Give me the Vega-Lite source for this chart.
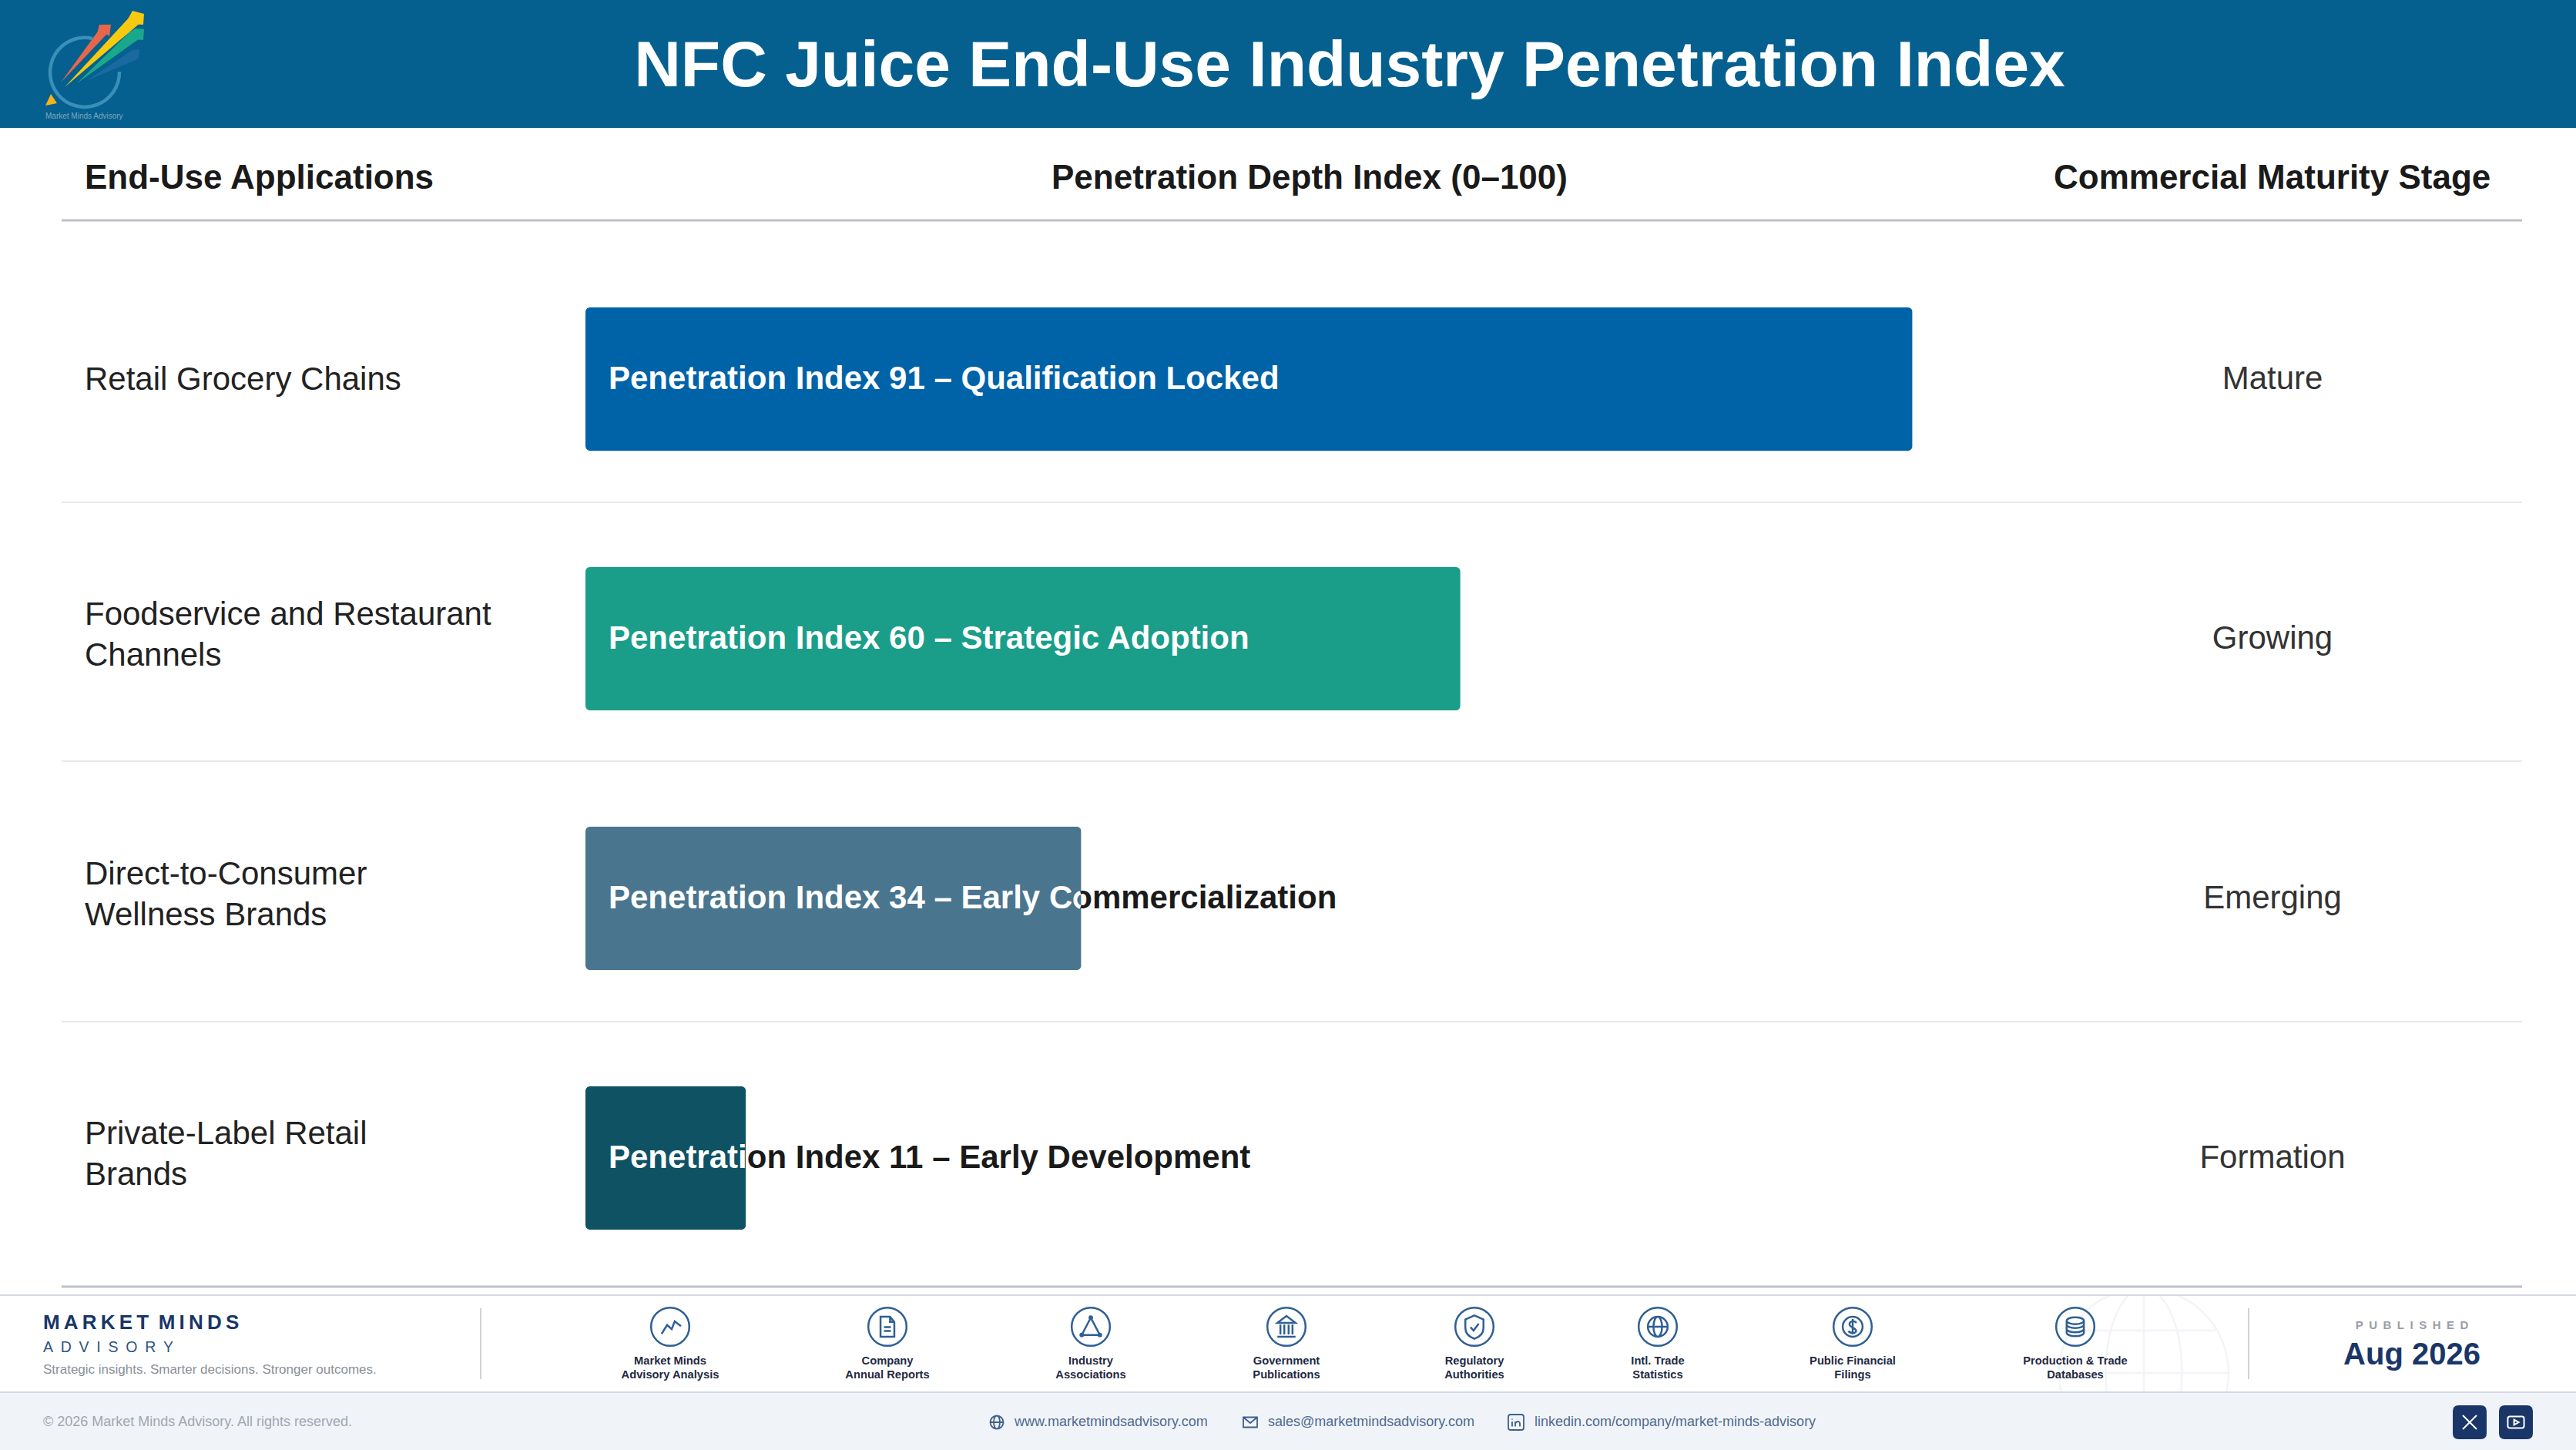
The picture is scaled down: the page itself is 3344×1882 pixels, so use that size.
{
  "$schema": "https://vega.github.io/schema/vega-lite/v6.json",
  "width": 3344,
  "height": 1882,
  "autosize": "none",
  "padding": 0,
  "background": "#ffffff",
  "config": {
    "font": "Liberation Sans",
    "view": {"stroke": null}
  },
  "datasets": {
    "rows": [
      {"application": "Retail Grocery Chains", "index": 91, "label": "Penetration Index 91 – Qualification Locked", "inBar": "Penetration Index 91 – Qualification Locked", "stage": "Mature"},
      {"application": "Foodservice and Restaurant\nChannels", "index": 60, "label": "Penetration Index 60 – Strategic Adoption", "inBar": "Penetration Index 60 – Strategic Adoption", "stage": "Growing"},
      {"application": "Direct-to-Consumer\nWellness Brands", "index": 34, "label": "Penetration Index 34 – Early Commercialization", "inBar": "Penetration Index 34 – Early C", "stage": "Emerging"},
      {"application": "Private-Label Retail\nBrands", "index": 11, "label": "Penetration Index 11 – Early Development", "inBar": "Penetrati", "stage": "Formation"}
    ],
    "sources": [
      {"n": 1, "source": "Market Minds\nAdvisory Analysis"},
      {"n": 2, "source": "Company\nAnnual Reports"},
      {"n": 3, "source": "Industry\nAssociations"},
      {"n": 4, "source": "Government\nPublications"},
      {"n": 5, "source": "Regulatory\nAuthorities"},
      {"n": 6, "source": "Intl. Trade\nStatistics"},
      {"n": 7, "source": "Public Financial\nFilings"},
      {"n": 8, "source": "Production & Trade\nDatabases"}
    ]
  },
  "resolve": {
    "scale": {"x": "independent", "y": "independent", "color": "independent", "size": "independent", "shape": "independent"}
  },
  "layer": [
    {
      "data": {"values": [{"n": 1}]},
      "mark": {"type": "point", "filled": false, "opacity": 1, "size": 48400, "color": "#f2f4f7", "strokeWidth": 2.5, "shape": "M-1 0A1 1 0 1 1 1 0A1 1 0 1 1 -1 0ZM0 -1A0.45 1 0 0 1 0 1A0.45 1 0 0 1 0 -1ZM0 -1L0 1M-1 0L1 0M-0.85 -0.5L0.85 -0.5M-0.85 0.5L0.85 0.5"},
      "encoding": {
        "x": {"datum": 0, "axis": null, "scale": {"domain": [0, 1], "range": [2783, 2783]}},
        "y": {"datum": 0, "axis": null, "scale": {"domain": [0, 1], "range": [1782, 1782]}}
      }
    },
    {
      "data": {"values": [{"n": 1}]},
      "mark": {"type": "rule", "color": "#ffffff", "strokeWidth": 12},
      "encoding": {"y": {"datum": 0, "axis": null, "scale": {"domain": [0, 1], "range": [1675, 1675]}}}
    },
    {
      "data": {"values": [{"n": 1}]},
      "mark": {"type": "rule", "color": "#05608f", "strokeWidth": 166},
      "encoding": {"y": {"datum": 0, "axis": null, "scale": {"domain": [0, 1], "range": [83, 83]}}}
    },
    {
      "data": {"values": [{"t": "NFC Juice End-Use Industry Penetration Index"}]},
      "mark": {"type": "text", "align": "center", "baseline": "middle", "fontSize": 84, "fontWeight": "bold", "color": "#ffffff"},
      "encoding": {
        "x": {"datum": 0, "axis": null, "scale": {"domain": [0, 1], "range": [1752, 1752]}},
        "y": {"datum": 0, "axis": null, "scale": {"domain": [0, 1], "range": [87, 87]}},
        "text": {"field": "t"}
      }
    },
    {
      "data": {"values": [{"n": 1}]},
      "mark": {"type": "rule", "color": "#f0f4f9", "strokeWidth": 75},
      "encoding": {"y": {"datum": 0, "axis": null, "scale": {"domain": [0, 1], "range": [1844.5, 1844.5]}}}
    },
    {
      "data": {"values": [{"n": 1}, {"n": 2}]},
      "mark": {"type": "rule", "color": "#d5d8e6", "strokeWidth": 2},
      "encoding": {"y": {"field": "n", "type": "quantitative", "axis": null, "scale": {"domain": [1, 2], "range": [1681, 1807]}}}
    },
    {
      "data": {"values": [{"n": 1}, {"n": 2}]},
      "mark": {"type": "rule", "color": "#c0c0c8", "strokeWidth": 3},
      "encoding": {
        "x": {"datum": 0, "axis": null, "scale": {"domain": [0, 1], "range": [80, 3274]}},
        "x2": {"datum": 1},
        "y": {"field": "n", "type": "quantitative", "axis": null, "scale": {"domain": [1, 2], "range": [286, 1670]}}
      }
    },
    {
      "data": {"values": [{"n": 1}, {"n": 2}, {"n": 3}]},
      "mark": {"type": "rule", "color": "#e8e8e8", "strokeWidth": 2},
      "encoding": {
        "x": {"datum": 0, "axis": null, "scale": {"domain": [0, 1], "range": [80, 3274]}},
        "x2": {"datum": 1},
        "y": {"field": "n", "type": "quantitative", "axis": null, "scale": {"domain": [1, 2, 3], "range": [652, 988, 1326]}}
      }
    },
    {
      "data": {"values": [{"n": 1}, {"n": 2}]},
      "mark": {"type": "rule", "color": "#cfd2da", "strokeWidth": 2},
      "encoding": {
        "x": {"field": "n", "type": "quantitative", "axis": null, "scale": {"domain": [1, 2], "range": [624, 2919]}},
        "y": {"datum": 0, "axis": null, "scale": {"domain": [0, 1], "range": [1698, 1790]}},
        "y2": {"datum": 1}
      }
    },
    {
      "data": {"name": "rows"},
      "mark": {"type": "text", "align": "left", "baseline": "middle", "dx": 30, "fontSize": 42, "fontWeight": "bold", "color": "#1a1a1a"},
      "encoding": {
        "x": {"datum": 0, "axis": null, "scale": {"domain": [0, 100], "range": [760, 2653]}},
        "y": {"field": "application", "type": "nominal", "axis": null, "sort": null, "scale": {"type": "band", "range": [323.5, 1671.5], "paddingInner": 0.448, "paddingOuter": 0.224}},
        "text": {"field": "label"}
      }
    },
    {
      "data": {"name": "rows"},
      "mark": {"type": "bar", "cornerRadius": 6},
      "encoding": {
        "x": {"field": "index", "type": "quantitative", "axis": null, "scale": {"domain": [0, 100], "range": [760, 2653]}},
        "y": {"field": "application", "type": "nominal", "axis": null, "sort": null, "scale": {"type": "band", "range": [323.5, 1671.5], "paddingInner": 0.448, "paddingOuter": 0.224}},
        "color": {"field": "stage", "type": "nominal", "legend": null, "scale": {"domain": ["Mature", "Growing", "Emerging", "Formation"], "range": ["#0063a8", "#1a9e8a", "#4a758f", "#0e5264"]}}
      }
    },
    {
      "data": {"name": "rows"},
      "mark": {"type": "text", "align": "left", "baseline": "middle", "dx": 30, "fontSize": 42, "fontWeight": "bold", "color": "#ffffff"},
      "encoding": {
        "x": {"datum": 0, "axis": null, "scale": {"domain": [0, 100], "range": [760, 2653]}},
        "y": {"field": "application", "type": "nominal", "axis": null, "sort": null, "scale": {"type": "band", "range": [323.5, 1671.5], "paddingInner": 0.448, "paddingOuter": 0.224}},
        "text": {"field": "inBar"}
      }
    },
    {
      "data": {"name": "rows"},
      "transform": [{"filter": "datum.stage === 'Emerging'"}],
      "mark": {"type": "point", "filled": false, "opacity": 1, "size": 576, "color": "#ffffff", "strokeWidth": 5, "shape": "M-0.1 -0.78A0.83 0.83 0 0 0 -0.1 0.78"},
      "encoding": {
        "x": {"field": "index", "type": "quantitative", "axis": null, "scale": {"domain": [0, 100], "range": [760, 2653]}},
        "y": {"field": "application", "type": "nominal", "axis": null, "scale": {"type": "band", "domain": ["Retail Grocery Chains", "Foodservice and Restaurant\nChannels", "Direct-to-Consumer\nWellness Brands", "Private-Label Retail\nBrands"], "range": [325.5, 1673.5], "paddingInner": 0.448, "paddingOuter": 0.224}}
      }
    },
    {
      "data": {"name": "rows"},
      "transform": [{"filter": "indexof(datum.application, '\\n') < 0"}],
      "mark": {"type": "text", "align": "left", "baseline": "middle", "dy": 1, "fontSize": 42, "color": "#222222"},
      "encoding": {
        "x": {"datum": 0, "axis": null, "scale": {"domain": [0, 1], "range": [110, 110]}},
        "y": {"field": "application", "type": "nominal", "axis": null, "scale": {"type": "band", "domain": ["Retail Grocery Chains", "Foodservice and Restaurant\nChannels", "Direct-to-Consumer\nWellness Brands", "Private-Label Retail\nBrands"], "range": [323.5, 1671.5], "paddingInner": 0.448, "paddingOuter": 0.224}},
        "text": {"field": "application"}
      }
    },
    {
      "data": {"name": "rows"},
      "transform": [{"filter": "indexof(datum.application, '\\n') >= 0"}],
      "mark": {"type": "text", "align": "left", "baseline": "middle", "dy": -31, "fontSize": 42, "lineBreak": "\n", "lineHeight": 53, "color": "#222222"},
      "encoding": {
        "x": {"datum": 0, "axis": null, "scale": {"domain": [0, 1], "range": [110, 110]}},
        "y": {"field": "application", "type": "nominal", "axis": null, "scale": {"type": "band", "domain": ["Retail Grocery Chains", "Foodservice and Restaurant\nChannels", "Direct-to-Consumer\nWellness Brands", "Private-Label Retail\nBrands"], "range": [323.5, 1671.5], "paddingInner": 0.448, "paddingOuter": 0.224}},
        "text": {"field": "application"}
      }
    },
    {
      "data": {"name": "rows"},
      "mark": {"type": "text", "align": "center", "baseline": "middle", "fontSize": 42, "color": "#333333"},
      "encoding": {
        "x": {"datum": 0, "axis": null, "scale": {"domain": [0, 1], "range": [2950, 2950]}},
        "y": {"field": "application", "type": "nominal", "axis": null, "sort": null, "scale": {"type": "band", "range": [323.5, 1671.5], "paddingInner": 0.448, "paddingOuter": 0.224}},
        "text": {"field": "stage"}
      }
    },
    {
      "data": {"values": [
        {"n": 1, "t": "End-Use Applications"},
        {"n": 2, "t": "Penetration Depth Index (0–100)"},
        {"n": 3, "t": "Commercial Maturity Stage"},
        {"n": 4, "t": "M\u2009A\u2009R\u2009K\u2009E\u2009T\u2009 M\u2009I\u2009N\u2009D\u2009S"}
      ]},
      "mark": {"type": "text", "align": "left", "baseline": "middle", "fontWeight": "bold"},
      "encoding": {
        "x": {"field": "n", "type": "quantitative", "axis": null, "scale": {"domain": [1, 2, 3, 4], "range": [110, 1365, 2666, 56]}},
        "y": {"field": "n", "type": "quantitative", "axis": null, "scale": {"domain": [1, 2, 3, 4], "range": [232, 232, 232, 1717]}},
        "size": {"field": "n", "type": "quantitative", "legend": null, "scale": {"domain": [1, 2, 3, 4], "range": [44, 44, 44, 26]}},
        "color": {"field": "n", "type": "nominal", "legend": null, "scale": {"domain": [1, 2, 3, 4], "range": ["#1a1a1a", "#1a1a1a", "#1a1a1a", "#1a3668"]}},
        "text": {"field": "t"}
      }
    },
    {
      "data": {"values": [
        {"n": 1, "t": "A\u2002D\u2002V\u2002I\u2002S\u2002O\u2002R\u2002Y"},
        {"n": 2, "t": "Strategic insights. Smarter decisions. Stronger outcomes."},
        {"n": 3, "t": "© 2026 Market Minds Advisory. All rights reserved."},
        {"n": 4, "t": "www.marketmindsadvisory.com"},
        {"n": 5, "t": "sales@marketmindsadvisory.com"},
        {"n": 6, "t": "linkedin.com/company/market-minds-advisory"},
        {"n": 7, "t": "Market Minds Advisory"}
      ]},
      "mark": {"type": "text", "align": "left", "baseline": "middle"},
      "encoding": {
        "x": {"field": "n", "type": "quantitative", "axis": null, "scale": {"domain": [1, 2, 3, 4, 5, 6, 7], "range": [56, 56, 56, 1317, 1646, 1992, 59]}},
        "y": {"field": "n", "type": "quantitative", "axis": null, "scale": {"domain": [1, 2, 3, 4, 5, 6, 7], "range": [1749, 1778, 1846, 1846, 1846, 1846, 151]}},
        "size": {"field": "n", "type": "quantitative", "legend": null, "scale": {"domain": [1, 2, 3, 4, 5, 6, 7], "range": [19.5, 17, 18, 18, 18, 18, 10]}},
        "color": {"field": "n", "type": "nominal", "legend": null, "scale": {"domain": [1, 2, 3, 4, 5, 6, 7], "range": ["#2f5580", "#8a8f99", "#a0a6b2", "#4f6a8f", "#4f6a8f", "#4f6a8f", "#7fa6bd"]}},
        "text": {"field": "t"}
      }
    },
    {
      "data": {"values": [
        {"n": 1, "t": "P\u2002U\u2002B\u2002L\u2002I\u2002S\u2002H\u2002E\u2002D"},
        {"n": 2, "t": "Aug 2026"}
      ]},
      "mark": {"type": "text", "align": "center", "baseline": "middle", "fontWeight": "bold"},
      "encoding": {
        "x": {"datum": 0, "axis": null, "scale": {"domain": [0, 1], "range": [3131, 3131]}},
        "y": {"field": "n", "type": "quantitative", "axis": null, "scale": {"domain": [1, 2], "range": [1720, 1759]}},
        "size": {"field": "n", "type": "quantitative", "legend": null, "scale": {"domain": [1, 2], "range": [15, 40]}},
        "color": {"field": "n", "type": "nominal", "legend": null, "scale": {"domain": [1, 2], "range": ["#9a9ea6", "#1a3668"]}},
        "text": {"field": "t"}
      }
    },
    {
      "data": {"name": "sources"},
      "mark": {"type": "point", "shape": "circle", "filled": false, "opacity": 1, "size": 2463, "color": "#2f5f94", "strokeWidth": 2.5},
      "encoding": {
        "x": {"field": "n", "type": "quantitative", "axis": null, "scale": {"domain": [1, 2, 3, 4, 5, 6, 7, 8], "range": [870, 1152, 1416, 1670, 1914, 2152, 2405, 2694]}},
        "y": {"datum": 0, "axis": null, "scale": {"domain": [0, 1], "range": [1722, 1722]}}
      }
    },
    {
      "data": {"name": "sources"},
      "mark": {"type": "point", "filled": false, "opacity": 1, "size": 3136, "color": "#2f5f94", "strokeWidth": 2.5},
      "encoding": {
        "x": {"field": "n", "type": "quantitative", "axis": null, "scale": {"domain": [1, 2, 3, 4, 5, 6, 7, 8], "range": [870, 1152, 1416, 1670, 1914, 2152, 2405, 2694]}},
        "y": {"datum": 0, "axis": null, "scale": {"domain": [0, 1], "range": [1722, 1722]}},
        "shape": {"field": "n", "type": "nominal", "legend": null, "scale": {"domain": [1, 2, 3, 4, 5, 6, 7, 8], "range": [
          "M-0.4 0.33L-0.14 -0.08L0.07 0.11L0.21 -0.25L0.5 -0.03",
          "M-0.32 -0.46L0.12 -0.46L0.32 -0.22L0.32 0.46L-0.32 0.46ZM0.12 -0.46L0.12 -0.22L0.32 -0.22M-0.16 0.02L0.16 0.02M-0.16 0.2L0.16 0.2",
          "M0 -0.42L-0.42 0.38L0.42 0.38ZM-0.06 -0.42A0.06 0.06 0 1 0 0.06 -0.42A0.06 0.06 0 1 0 -0.06 -0.42ZM-0.48 0.38A0.06 0.06 0 1 0 -0.36 0.38A0.06 0.06 0 1 0 -0.48 0.38ZM0.36 0.38A0.06 0.06 0 1 0 0.48 0.38A0.06 0.06 0 1 0 0.36 0.38Z",
          "M-0.42 -0.18L0 -0.5L0.42 -0.18ZM-0.28 -0.1L-0.28 0.36M-0.1 -0.1L-0.1 0.36M0.1 -0.1L0.1 0.36M0.28 -0.1L0.28 0.36M-0.42 0.46L0.42 0.46",
          "M0 -0.52L0.42 -0.34L0.42 0.06Q0.42 0.4 0 0.56Q-0.42 0.4 -0.42 0.06L-0.42 -0.34ZM-0.18 0.02L-0.04 0.18L0.2 -0.14",
          "M-0.46 0A0.46 0.46 0 1 1 0.46 0A0.46 0.46 0 1 1 -0.46 0ZM-0.46 0L0.46 0M0 -0.46A0.2 0.46 0 0 1 0 0.46A0.2 0.46 0 0 1 0 -0.46Z",
          "M-0.46 0A0.46 0.46 0 1 1 0.46 0A0.46 0.46 0 1 1 -0.46 0ZM0.18 -0.18C0.05 -0.32 -0.18 -0.25 -0.14 -0.08C-0.1 0.05 0.14 0.05 0.16 0.18C0.18 0.32 -0.1 0.32 -0.2 0.2M0 -0.36L0 0.36",
          "M-0.4 -0.28A0.4 0.16 0 1 1 0.4 -0.28A0.4 0.16 0 1 1 -0.4 -0.28ZM-0.4 -0.28L-0.4 0.28A0.4 0.16 0 0 0 0.4 0.28L0.4 -0.28M-0.4 -0.1A0.4 0.16 0 0 0 0.4 -0.1M-0.4 0.1A0.4 0.16 0 0 0 0.4 0.1"
        ]}}
      }
    },
    {
      "data": {"name": "sources"},
      "mark": {"type": "text", "align": "center", "baseline": "middle", "fontSize": 14.7, "fontWeight": "bold", "lineBreak": "\n", "lineHeight": 18, "color": "#1f2a44"},
      "encoding": {
        "x": {"field": "n", "type": "quantitative", "axis": null, "scale": {"domain": [1, 2, 3, 4, 5, 6, 7, 8], "range": [870, 1152, 1416, 1670, 1914, 2152, 2405, 2694]}},
        "y": {"datum": 0, "axis": null, "scale": {"domain": [0, 1], "range": [1767, 1767]}},
        "text": {"field": "source"}
      }
    },
    {
      "data": {"values": [{"n": 1}, {"n": 2}, {"n": 3}]},
      "mark": {"type": "point", "filled": false, "opacity": 1, "size": 400, "color": "#3f5f8a", "strokeWidth": 1.8},
      "encoding": {
        "x": {"field": "n", "type": "quantitative", "axis": null, "scale": {"domain": [1, 2, 3], "range": [1294, 1623, 1968]}},
        "y": {"datum": 0, "axis": null, "scale": {"domain": [0, 1], "range": [1846, 1846]}},
        "shape": {"field": "n", "type": "nominal", "legend": null, "scale": {"domain": [1, 2, 3], "range": [
          "M-0.85 0A0.85 0.85 0 1 1 0.85 0A0.85 0.85 0 1 1 -0.85 0ZM-0.85 0L0.85 0M0 -0.85A0.4 0.85 0 0 1 0 0.85A0.4 0.85 0 0 1 0 -0.85Z",
          "M-0.9 -0.65L0.9 -0.65L0.9 0.65L-0.9 0.65ZM-0.9 -0.65L0 0.1L0.9 -0.65",
          "M-0.7 -1L0.7 -1Q1 -1 1 -0.7L1 0.7Q1 1 0.7 1L-0.7 1Q-1 1 -1 0.7L-1 -0.7Q-1 -1 -0.7 -1ZM-0.5 -0.1L-0.5 0.55M-0.5 -0.45L-0.5 -0.35M-0.1 0.55L-0.1 -0.1M-0.1 0.15Q0.15 -0.2 0.4 -0.05Q0.5 0 0.5 0.2L0.5 0.55"
        ]}}
      }
    },
    {
      "data": {"values": [{"n": 1}, {"n": 2}]},
      "mark": {"type": "point", "filled": true, "opacity": 1, "size": 1936, "color": "#1a3668", "shape": "M-0.65 -1L0.65 -1Q1 -1 1 -0.65L1 0.65Q1 1 0.65 1L-0.65 1Q-1 1 -1 0.65L-1 -0.65Q-1 -1 -0.65 -1Z"},
      "encoding": {
        "x": {"field": "n", "type": "quantitative", "axis": null, "scale": {"domain": [1, 2], "range": [3206, 3266]}},
        "y": {"datum": 0, "axis": null, "scale": {"domain": [0, 1], "range": [1846, 1846]}}
      }
    },
    {
      "data": {"values": [{"n": 1}, {"n": 2}]},
      "mark": {"type": "point", "filled": false, "opacity": 1, "size": 576, "color": "#ffffff", "strokeWidth": 2},
      "encoding": {
        "x": {"field": "n", "type": "quantitative", "axis": null, "scale": {"domain": [1, 2], "range": [3206, 3266]}},
        "y": {"datum": 0, "axis": null, "scale": {"domain": [0, 1], "range": [1846, 1846]}},
        "shape": {"field": "n", "type": "nominal", "legend": null, "scale": {"domain": [1, 2], "range": [
          "M-0.75 -0.75L0.75 0.75M0.75 -0.75L-0.75 0.75",
          "M-0.65 -0.62L0.65 -0.62Q0.88 -0.62 0.88 -0.4L0.88 0.4Q0.88 0.62 0.65 0.62L-0.65 0.62Q-0.88 0.62 -0.88 0.4L-0.88 -0.4Q-0.88 -0.62 -0.65 -0.62ZM-0.2 -0.28L0.3 0L-0.2 0.28Z"
        ]}}
      }
    },
    {
      "data": {"values": [{"piece": "blue"}, {"piece": "red"}, {"piece": "green"}, {"piece": "gold"}, {"piece": "tip"}]},
      "mark": {"type": "point", "filled": true, "opacity": 1, "size": 19600},
      "encoding": {
        "x": {"datum": 0, "axis": null, "scale": {"domain": [0, 1], "range": [123, 123]}},
        "y": {"datum": 0, "axis": null, "scale": {"domain": [0, 1], "range": [85, 85]}},
        "shape": {"field": "piece", "type": "nominal", "legend": null, "scale": {"domain": ["blue", "red", "green", "gold", "tip"], "range": [
          "M-0.157 0.286L0.7 -0.286L0.829 -0.3L0.814 -0.129Z",
          "M-0.629 0.314L0.05 -0.62L0.086 -0.757L0.3 -0.757L0.271 -0.543L0.22 -0.58Z",
          "M-0.329 0.329L0.65 -0.62L0.757 -0.686L0.914 -0.671L0.9 -0.471L0.8 -0.48Z",
          "M-0.557 0.4L0.62 -0.87L0.7 -1.014L0.914 -0.957L0.9 -0.757L0.81 -0.76Z",
          "M-0.914 0.743L-0.814 0.529L-0.7 0.7Z"
        ]}},
        "color": {"field": "piece", "type": "nominal", "legend": null, "scale": {"domain": ["blue", "red", "green", "gold", "tip"], "range": ["#1b6a9f", "#e8674a", "#1aa88c", "#f7c90f", "#f6b21a"]}}
      }
    },
    {
      "data": {"values": [{"n": 1}]},
      "mark": {"type": "point", "filled": false, "opacity": 1, "size": 19600, "color": "#3a8fb8", "strokeWidth": 4.5, "shape": "M-0.043 -0.5A0.643 0.643 0 1 0 0.457 0.114"},
      "encoding": {
        "x": {"datum": 0, "axis": null, "scale": {"domain": [0, 1], "range": [123, 123]}},
        "y": {"datum": 0, "axis": null, "scale": {"domain": [0, 1], "range": [85, 85]}}
      }
    }
  ]
}
